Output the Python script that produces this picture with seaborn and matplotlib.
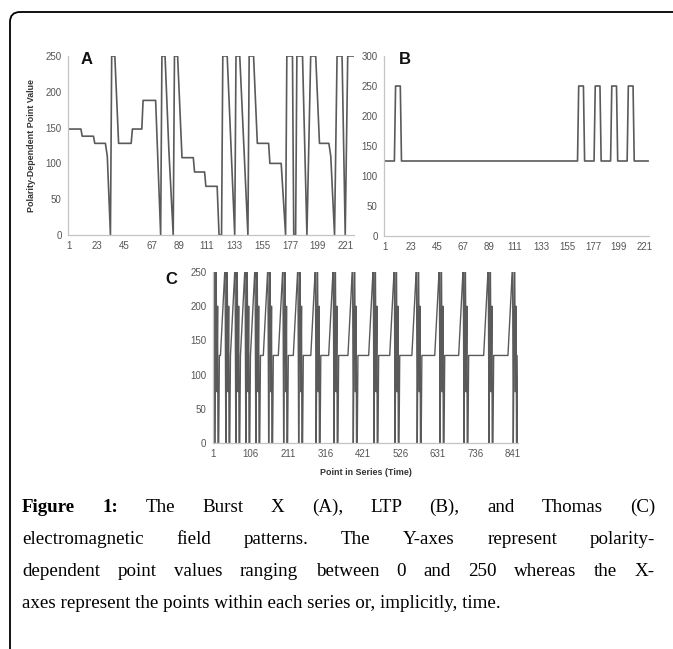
import numpy as np
import pandas as pd
import matplotlib
matplotlib.use("Agg")
import matplotlib.pyplot as plt
import seaborn as sns
from matplotlib.patches import FancyBboxPatch

# ---- data ----
# A: Burst X trace (point index, value at each corner of the trace)
burst_pts = [1, 10.5, 11.5, 20.5, 21.5, 30, 31.5, 34, 35, 37.5,
             40.5, 50.5, 51.5, 59, 60, 70, 74, 75, 77.5, 80.5,
             84, 85, 87.5, 91, 100, 101, 109, 110, 119, 120.5,
             122.5, 123.5, 127, 133, 134, 137, 143.5, 144.5, 148, 151,
             160, 161, 170, 173.5, 174.5, 179, 180, 181.5, 182.5, 187,
             190.5, 193.5, 197.5, 200.5, 208, 209.5, 212.5, 214.5, 218.5, 221,
             223, 228]
burst_vals = [148, 148, 138, 138, 128, 128, 110, 0, 250, 250,
              128, 128, 148, 148, 188, 188, 0, 250, 250, 120,
              0, 250, 250, 108, 108, 88, 88, 68, 68, 0,
              0, 250, 250, 0, 250, 250, 0, 250, 250, 128,
              128, 100, 100, 0, 250, 250, 0, 0, 250, 250,
              0, 250, 250, 128, 128, 110, 0, 250, 250, 0,
              250, 250]

# B: LTP trace
ltp_pts = [1, 9, 10, 14, 15, 164, 165, 169, 170, 178, 179,
           183, 184, 192, 193, 197, 198, 206, 207, 211, 212, 224]
ltp_vals = [125, 125, 250, 250, 125, 125, 250, 250, 125, 125, 250,
            250, 125, 125, 250, 250, 125, 125, 250, 250, 125, 125]

# C: Thomas pattern - where each burst sits, and the shape of one burst
thomas_centres = [11, 42, 70, 98, 126, 162, 204, 246, 295, 345,
                  399, 457, 516, 578, 642, 709, 779, 847]
shape_offsets = [-20, -8, -7, -5, -4, -2, -1, 1, 3, 4, 6, 8]
shape_vals = [128, 250, 250, 0, 75, 250, 250, 75, 200, 0, 0, 128]
thomas_start = 128

ticks_ab = [1, 23, 45, 67, 89, 111, 133, 155, 177, 199, 221]
ticks_c = [1, 106, 211, 316, 421, 526, 631, 736, 841]
yticks_ac = [0, 50, 100, 150, 200, 250]
yticks_b = [0, 50, 100, 150, 200, 250, 300]

caption_lines = [
    "Figure 1: The Burst X (A), LTP (B), and Thomas (C)",
    "electromagnetic field patterns. The Y-axes represent polarity-",
    "dependent point values ranging between 0 and 250 whereas the X-",
    "axes represent the points within each series or, implicitly, time.",
]

# ---- tables ----
df_a = pd.DataFrame({"pt": burst_pts, "val": burst_vals})
df_b = pd.DataFrame({"pt": ltp_pts, "val": ltp_vals})
rows = [(1, thomas_start)]
for c in thomas_centres:
    for o, v in zip(shape_offsets, shape_vals):
        if c + o > 1:
            rows.append((c + o, v))
df_c = pd.DataFrame(rows, columns=["pt", "val"])

sns.set_style("white")
plt.rcParams["font.family"] = ["Liberation Sans", "DejaVu Sans"]

W, H = 673, 649
fig = plt.figure(figsize=(W / 100, H / 100), dpi=100)

# background axes in pixel units: frame + caption
bg = fig.add_axes([0, 0, 1, 1])
bg.set_xlim(0, W)
bg.set_ylim(H, 0)
bg.axis("off")
bg.add_patch(FancyBboxPatch((10, 12), 720, 720,
                            boxstyle="round,pad=0,rounding_size=10",
                            fc="none", ec="black", lw=1.3))


def px_axes(left, right, top, bottom):
    return fig.add_axes([left / W, 1 - bottom / H, (right - left) / W, (bottom - top) / H])


LINE = "#5a5a5a"
GRID = "#c4c4c4"
TICKC = "#555555"


def style(ax, xlim, ylim, xt, yt):
    ax.set_xlim(*xlim)
    ax.set_ylim(*ylim)
    ax.set_xticks(xt)
    ax.set_yticks(yt)
    for s in ["top", "right"]:
        ax.spines[s].set_visible(False)
    for s in ["left", "bottom"]:
        ax.spines[s].set_color(GRID)
        ax.spines[s].set_linewidth(0.9)
    ax.tick_params(length=0, labelsize=7, colors=TICKC)
    ax.tick_params(axis="y", pad=4.5)
    ax.tick_params(axis="x", pad=4)
    ax.set_xlabel("")
    ax.set_ylabel("")
    ax.patch.set_alpha(0)


ax_a = px_axes(68, 354, 56, 235)
sns.lineplot(data=df_a, x="pt", y="val", ax=ax_a, color=LINE, linewidth=1.2,
             estimator=None, sort=False)
style(ax_a, (0.2, 228), (0, 250), ticks_ab, yticks_ac)
ax_a.set_ylabel("Polarity-Dependent Point Value", fontsize=6.4, fontweight="bold", color="#333333")
ax_a.yaxis.set_label_coords(-(68 - 36) / (354 - 68), 0.5)
ax_a.text(0.065, 0.98, "A", transform=ax_a.transAxes, fontsize=12, fontweight="bold",
          ha="center", va="center", color="#111111")

ax_b = px_axes(384, 649, 56, 236)
sns.lineplot(data=df_b, x="pt", y="val", ax=ax_b, color=LINE, linewidth=1.2,
             estimator=None, sort=False)
style(ax_b, (0.2, 224.5), (0, 300), ticks_ab, yticks_b)
ax_b.text((405 - 384) / (649 - 384), 0.98, "B", transform=ax_b.transAxes, fontsize=12,
          fontweight="bold", ha="center", va="center", color="#111111")

ax_c = px_axes(212.6, 518.3, 272, 443)
sns.lineplot(data=df_c, x="pt", y="val", ax=ax_c, color=LINE, linewidth=1.0,
             estimator=None, sort=False)
style(ax_c, (0, 856), (0, 250), ticks_c, yticks_ac)
ax_c.set_xlabel("Point in Series (Time)", fontsize=6.4, fontweight="bold", color="#333333")
ax_c.xaxis.set_label_coords(0.5, -(468 - 443) / (443 - 272))
ax_c.text(-(212.6 - 171) / (518.3 - 212.6), 1 - (279 - 272) / (443 - 272), "C",
          transform=ax_c.transAxes, fontsize=12, fontweight="bold",
          ha="center", va="center", color="#111111")

# ---- caption, justified like the journal layout ----
SERIF = ["Liberation Serif", "DejaVu Serif"]
fig.canvas.draw()
renderer = fig.canvas.get_renderer()


def text_width(s, fs, weight="normal"):
    t = bg.text(0, 0, s, fontsize=fs, family=SERIF, fontweight=weight)
    w = t.get_window_extent(renderer).width
    t.remove()
    return w


left_x, right_x = 22, 655
fs = 10 * 478 / text_width(caption_lines[3], 10)
line_y = [507, 539, 571, 603]

for i, line in enumerate(caption_lines):
    words = line.split(" ")
    weights = ["bold" if (i == 0 and j < 2) else "normal" for j in range(len(words))]
    if i < 3:
        widths = [text_width(w, fs, wt) for w, wt in zip(words, weights)]
        gap = (right_x - left_x - sum(widths)) / (len(words) - 1)
        x = left_x
        for w, wt, wd in zip(words, weights, widths):
            bg.text(x, line_y[i], w, fontsize=fs, family=SERIF, fontweight=wt,
                    ha="left", va="center", color="black")
            x += wd + gap
    else:
        bg.text(left_x, line_y[i], line, fontsize=fs, family=SERIF,
                ha="left", va="center", color="black")

fig.savefig("out.png", dpi=100)
